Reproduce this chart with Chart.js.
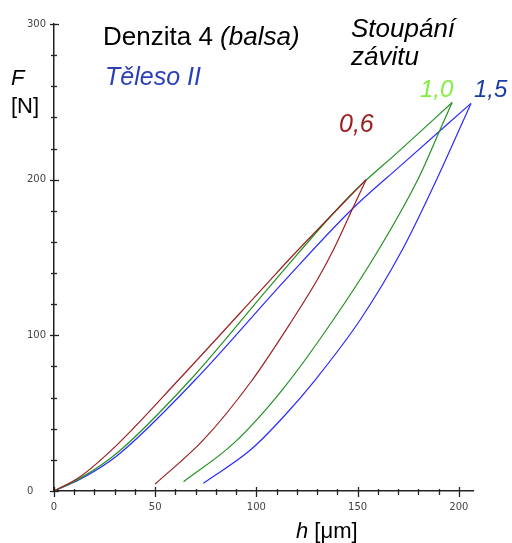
<!DOCTYPE html>
<html>
<head>
<meta charset="utf-8">
<script src="https://cdn.jsdelivr.net/npm/chart.js@4.4.1/dist/chart.umd.min.js"></script>
<style>
  html, body { margin: 0; padding: 0; background: #fff; }
  #wrap { position: relative; width: 512px; height: 543px; overflow: hidden; }
  #c { position: absolute; left: 0; top: 0; }
  .t { position: absolute; white-space: nowrap; line-height: 1; font-family: "Liberation Sans", Arial, sans-serif; }
  .i { font-style: italic; }
</style>
</head>
<body>
<div id="wrap">
  <canvas id="c" width="512" height="543"></canvas>
  <div class="t" style="left:103px; top:23px; font-size:26px; color:#000;">Denzita 4 <span class="i">(balsa)</span></div>
  <div class="t i" style="left:105px; top:63.8px; font-size:25px; color:#2a40b8;">Těleso II</div>
  <div class="t i" style="left:11px; top:67.4px; font-size:22px; color:#000;">F</div>
  <div class="t" style="left:11px; top:95.4px; font-size:22px; color:#000;">[N]</div>
  <div class="t i" style="left:351px; top:15px; font-size:26px; color:#000;">Stoupání</div>
  <div class="t i" style="left:351px; top:43px; font-size:26px; color:#000;">závitu</div>
  <div class="t i" style="left:420px; top:76.7px; font-size:24px; color:#80f040;">1,0</div>
  <div class="t i" style="left:474px; top:76.7px; font-size:24px; color:#1c3ca8;">1,5</div>
  <div class="t i" style="left:339px; top:111px; font-size:25px; color:#9a1c1c;">0,6</div>
  <div class="t" style="left:296px; top:520.4px; font-size:22px; color:#000;"><span class="i">h</span> [μm]</div>
</div>
<script>
// ---- data (h in µm, F in N) ----
const X_TICKS = [0, 50, 100, 150, 200];
const Y_TICKS = [0, 100, 200, 300];

const hLoad06   = [0, 12.9, 31, 61.5, 106.8, 115.9, 154.2];
const fLoad06   = [0, 9.2, 29.5, 71.3, 135.5, 148.4, 200];
const hUnload06 = [50, 73.8, 97.5, 116.7, 130, 138, 147.2, 154.2];
const fUnload06 = [4.5, 32.8, 70.5, 107.7, 135.5, 154.8, 180.5, 200];

const hLoad10   = [0, 12.9, 31, 67.3, 109.3, 146.4, 171, 196.7];
const fLoad10   = [0, 8.1, 24.2, 71.3, 135.5, 190, 219, 249.6];
const hUnload10 = [64, 88.7, 113.4, 138, 158.8, 180, 191.7, 196.7];
const fUnload10 = [6, 30.6, 66, 110, 151.6, 200.8, 235, 249.6];

const hLoad15   = [0, 12.9, 31, 69.7, 114.2, 147.2, 171, 206];
const fLoad15   = [0, 7.5, 22.5, 71.3, 135.5, 181, 208.7, 249];
const hUnload15 = [73.8, 97, 113.4, 129, 151.3, 172, 189, 206];
const fUnload15 = [5, 26.3, 47.7, 71.3, 110, 154.8, 200, 249];

const COL06 = '#9c2020';
const COL10 = '#229222';
const COL15 = '#2a2aff';

function pts(hs, fs) { return hs.map((h, i) => ({ x: h, y: fs[i] })); }
function ds(hs, fs, col) {
  return {
    data: pts(hs, fs), showLine: true, borderColor: col, backgroundColor: col,
    borderWidth: 1.2, pointRadius: 0, fill: false, cubicInterpolationMode: 'monotone'
  };
}

const tickPlugin = {
  id: 'crossTicks',
  afterDraw(chart) {
    const { ctx, scales: { x, y } } = chart;
    ctx.save();
    ctx.strokeStyle = '#222';
    ctx.lineWidth = 1.3;
    const x0 = y.bottom;
    for (let v = 0; v <= 200; v += 10) {
      const px = Math.round(x.getPixelForValue(v)) + 0.5;
      const major = v % 50 === 0;
      ctx.beginPath();
      ctx.moveTo(px, x0 - (major ? 4 : 2));
      ctx.lineTo(px, x0 + (major ? 6 : 4));
      ctx.stroke();
    }
    const y0 = x.left;
    for (let v = 0; v <= 300; v += 20) {
      const py = Math.round(y.getPixelForValue(v)) + 0.5;
      const major = v % 100 === 0;
      ctx.beginPath();
      ctx.moveTo(y0 - (major ? 4 : 3), py);
      ctx.lineTo(y0 + (major ? 5 : 3), py);
      ctx.stroke();
    }
    ctx.restore();
  }
};

const tickFont = { family: 'DejaVu Sans', size: 10 };

new Chart(document.getElementById('c'), {
  type: 'scatter',
  data: {
    datasets: [
      ds(hLoad06, fLoad06, COL06), ds(hUnload06, fUnload06, COL06),
      ds(hLoad10, fLoad10, COL10), ds(hUnload10, fUnload10, COL10),
      ds(hLoad15, fLoad15, COL15), ds(hUnload15, fUnload15, COL15)
    ]
  },
  options: {
    responsive: false,
    animation: false,
    layout: { padding: { left: 27, right: 39, top: 24, bottom: 0 } },
    plugins: { legend: { display: false }, tooltip: { enabled: false } },
    scales: {
      x: {
        type: 'linear', min: 0, max: 207,
        afterBuildTicks: s => { s.ticks = X_TICKS.map(v => ({ value: v })); },
        afterFit: s => { s.height = 52; },
        grid: { display: false, drawTicks: false },
        border: { display: true, color: '#222', width: 1.5 },
        ticks: { font: tickFont, color: '#444', padding: 10, maxRotation: 0, autoSkip: false }
      },
      y: {
        type: 'linear', min: 0, max: 300,
        afterBuildTicks: s => { s.ticks = Y_TICKS.map(v => ({ value: v })); },
        afterFit: s => { s.width = 27; },
        grid: { display: false, drawTicks: false },
        border: { display: true, color: '#222', width: 1.5 },
        ticks: { font: tickFont, color: '#444', padding: 0, crossAlign: 'far', autoSkip: false }
      }
    }
  },
  plugins: [tickPlugin]
});
</script>
</body>
</html>
